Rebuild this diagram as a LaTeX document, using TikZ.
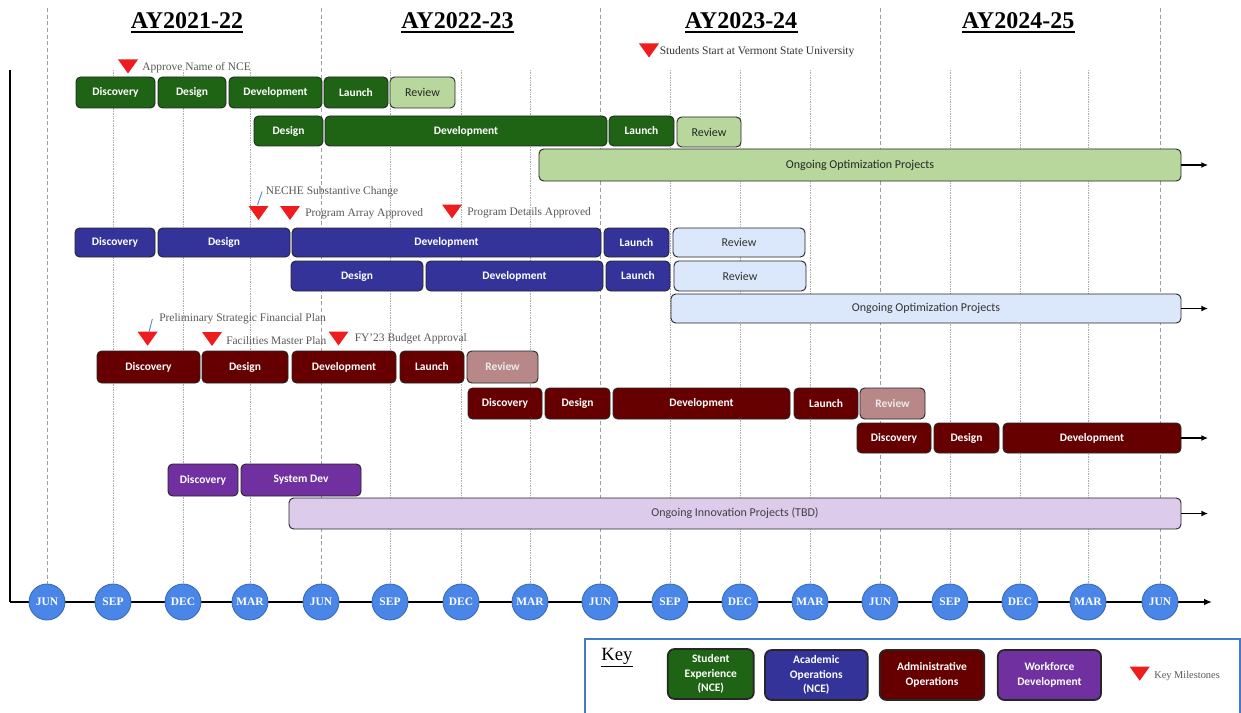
\documentclass[tikz,border=0pt]{standalone}
\usepackage{fontspec}
\setmainfont{Liberation Serif}
\newfontfamily\barfont{Carlito}
\usetikzlibrary{arrows.meta}
\definecolor{sgreen}{RGB}{30,100,20}
\definecolor{lgreen}{RGB}{184,215,156}
\definecolor{ablue}{RGB}{51,51,153}
\definecolor{lblue}{RGB}{219,231,250}
\definecolor{amaroon}{RGB}{102,0,0}
\definecolor{lmaroon}{RGB}{184,136,136}
\definecolor{wpurple}{RGB}{112,48,160}
\definecolor{lpurple}{RGB}{220,203,235}
\definecolor{mblue}{RGB}{74,134,232}
\definecolor{msred}{RGB}{238,28,28}
\definecolor{calblue}{RGB}{80,140,230}
\definecolor{keyblue}{RGB}{70,120,200}
\tikzset{
 bar/.style={rounded corners=3.5pt, draw=black!85, line width=0.7pt, inner sep=0pt, font=\barfont\bfseries\fontsize{8.6}{10}\selectfont},
 lbar/.style={bar, font=\barfont\fontsize{9}{10}\selectfont},
 stuD/.style={bar, fill=sgreen, text=white},
 stuL/.style={lbar, fill=lgreen, text=black!85},
 acaD/.style={bar, fill=ablue, text=white},
 acaL/.style={lbar, fill=lblue, text=black!80},
 admD/.style={bar, fill=amaroon, text=white},
 admL/.style={bar, fill=lmaroon, text=white!92!black},
 wfdD/.style={bar, fill=wpurple, text=white},
 wfdL/.style={lbar, fill=lpurple, text=black!75},
 month/.style={circle, fill=mblue, draw=mblue!75!black, line width=0.6pt, minimum size=27pt, inner sep=0pt, text=white, font=\bfseries\fontsize{8.6}{10}\selectfont},
 mslabel/.style={anchor=west, inner sep=0pt, text=black!65, font=\fontsize{8.6}{10}\selectfont},
 hdr/.style={font=\bfseries\fontsize{18}{22}\selectfont, inner sep=0pt, anchor=base},
 hdrule/.style={line width=1.4pt},
 junline/.style={gray!75, line width=0.5pt, dash pattern=on 3pt off 2pt},
 qline/.style={gray!65, line width=0.4pt, dash pattern=on 1pt off 0.8pt},
 tail/.style={line width=1.1pt, -{Latex[length=5pt,width=4.5pt]}},
 axisline/.style={line width=1.3pt},
 callout/.style={line width=0.7pt, draw=calblue},
 keyitem/.style={rounded corners=5pt, line width=1.3pt, draw=black!85, text=white, align=center, inner sep=0pt, font=\barfont\bfseries\fontsize{8.6}{11}\selectfont, minimum height=37.5pt},
}
\newcommand\gantt[7]{%
  \node[#6, minimum width={(#3-#2)*0.75pt}, minimum height={(#5-#4)*0.75pt}] (#1) at ({(#2+#3)/2},{(#4+#5)/2}) {#7};}
\newcommand\milestone[3]{%
  \coordinate (#1) at (#2,#3);
  \fill[msred] (#1) ++(-10,-7) -- ++(20,0) -- ++(-10,14) -- cycle;}
\begin{document}
\begin{tikzpicture}[x=0.75pt,y=-0.75pt]
\useasboundingbox (0,0) rectangle (1241,713);
\fill[white] (0,0) rectangle (1241,713);

% axis
\coordinate (axtop) at (10,70);
\coordinate (axcorner) at (10,602);
\coordinate (axend) at (1212,602);
\draw[axisline] (axtop) -- (axcorner);
\draw[axisline, -{Latex[length=6pt,width=5pt]}] (axcorner) -- (axend);

% month circles
\foreach \xx/\mm [count=\i from 0] in {47/JUN,113/SEP,183/DEC,250/MAR,321/JUN,390/SEP,461/DEC,530/MAR,600/JUN,670/SEP,740/DEC,810/MAR,880/JUN,950/SEP,1020/DEC,1088/MAR,1160/JUN}{
  \node[month] (m\i) at (\xx,602) {\mm};
}
% grid lines
\foreach \i/\xx in {0/47,4/321,8/600,12/880,16/1160}{
  \coordinate (gt\i) at (\xx,8);
  \draw[junline] (gt\i) -- (m\i.north);
}
\foreach \i/\xx in {1/113,2/183,3/250,5/390,6/461,7/530,9/670,10/740,11/810,13/950,14/1020,15/1088}{
  \coordinate (gt\i) at (\xx,70);
  \draw[qline] (gt\i) -- (m\i.north);
}

% headers
\node[hdr] (h1) at (187,29) {AY2021-22};
\node[hdr] (h2) at (457.5,29) {AY2022-23};
\node[hdr] (h3) at (741,29) {AY2023-24};
\node[hdr] (h4) at (1018,29) {AY2024-25};
\foreach \h in {h1,h2,h3,h4}{
  \draw[hdrule] ([yshift=-2.2pt]\h.base west) -- ([yshift=-2.2pt]\h.base east);
}

% Student experience
\gantt{s1a}{76}{155}{77}{108}{stuD}{Discovery}
\gantt{s1b}{158}{226}{77}{108}{stuD}{Design}
\gantt{s1c}{229}{322}{77}{108}{stuD}{Development}
\gantt{s1d}{324}{388}{77}{108}{stuD}{Launch}
\gantt{s1e}{390}{455}{77}{108}{stuL}{Review}
\gantt{s2a}{254}{323}{116}{146}{stuD}{Design}
\gantt{s2b}{325}{607}{116}{146}{stuD}{Development}
\gantt{s2c}{609}{674}{116}{146}{stuD}{Launch}
\gantt{s2d}{677}{741}{117}{147}{stuL}{Review}
\gantt{s3}{539}{1181}{149}{181}{stuL}{Ongoing Optimization Projects}
\coordinate (s3end) at (1208,165);
\draw[tail] (s3.east) -- (s3end);

% Academic operations
\gantt{a1a}{75}{155}{228}{257}{acaD}{Discovery}
\gantt{a1b}{158}{290}{228}{257}{acaD}{Design}
\gantt{a1c}{292}{601}{228}{257}{acaD}{Development}
\gantt{a1d}{604}{669}{228}{257}{acaD}{Launch}
\gantt{a1e}{673}{805}{228}{257}{acaL}{Review}
\gantt{a2a}{291}{423}{261}{291}{acaD}{Design}
\gantt{a2b}{426}{603}{261}{291}{acaD}{Development}
\gantt{a2c}{606}{670}{261}{291}{acaD}{Launch}
\gantt{a2d}{674}{806}{261}{291}{acaL}{Review}
\gantt{a3}{671}{1181}{294}{323}{acaL}{Ongoing Optimization Projects}
\coordinate (a3end) at (1208,308.5);
\draw[tail] (a3.east) -- (a3end);

% Administrative operations
\gantt{d1a}{97}{200}{351}{383}{admD}{Discovery}
\gantt{d1b}{202}{288}{351}{383}{admD}{Design}
\gantt{d1c}{292}{396}{351}{383}{admD}{Development}
\gantt{d1d}{400}{464}{351}{383}{admD}{Launch}
\gantt{d1e}{467}{538}{351}{383}{admL}{Review}
\gantt{d2a}{468}{542}{388}{419}{admD}{Discovery}
\gantt{d2b}{545}{610}{388}{419}{admD}{Design}
\gantt{d2c}{613}{790}{388}{419}{admD}{Development}
\gantt{d2d}{794}{858}{388}{419}{admD}{Launch}
\gantt{d2e}{860}{925}{388}{419}{admL}{Review}
\gantt{d3a}{857}{931}{423}{453}{admD}{Discovery}
\gantt{d3b}{934}{999}{423}{453}{admD}{Design}
\gantt{d3c}{1003}{1181}{423}{453}{admD}{Development}
\coordinate (d3end) at (1208,438);
\draw[tail] (d3c.east) -- (d3end);

% Workforce development
\gantt{w1a}{168}{238}{464}{496}{wfdD}{Discovery}
\gantt{w1b}{241}{361}{464}{496}{wfdD}{System Dev}
\gantt{w2}{289}{1181}{498}{529}{wfdL}{Ongoing Innovation Projects (TBD)}
\coordinate (w2end) at (1208,513.5);
\draw[tail] (w2.east) -- (w2end);

% milestones
\milestone{t1}{128}{66.5}
\node[mslabel] (l1) at (142,67.5) {Approve Name of NCE};
\milestone{t2}{649}{50.5}
\node[mslabel, text=black!80] (l2) at (659.5,52) {Students Start at Vermont State University};
\milestone{t3}{258.5}{213}
\node[mslabel] (l3) at (265.5,191.5) {NECHE Substantive Change};
\coordinate (t3top) at (257.5,205);
\draw[callout] (t3top) -- ([xshift=-2.5pt]l3.west);
\milestone{t4}{290}{213}
\node[mslabel] (l4) at (305,213.5) {Program Array Approved};
\milestone{t5}{452}{211.5}
\node[mslabel] (l5) at (467,212.5) {Program Details Approved};
\milestone{t6}{147.6}{338.7}
\node[mslabel] (l6) at (159,319) {Preliminary Strategic Financial Plan};
\coordinate (t6top) at (149,332);
\draw[callout] (t6top) -- ([xshift=-5pt]l6.west);
\milestone{t7}{212}{339}
\node[mslabel] (l7) at (226,341) {Facilities Master Plan};
\milestone{t8}{338.5}{338.5}
\node[mslabel] (l8) at (354.5,338.3) {FY'23 Budget Approval};

% key
\coordinate (kbl) at (585,713);
\coordinate (ktl) at (585,639);
\coordinate (ktr) at (1240,639);
\coordinate (kbr) at (1240,713);
\draw[keyblue, line width=1.3pt] (kbl) -- (ktl) -- (ktr) -- (kbr);
\node[font=\fontsize{14}{16}\selectfont, inner sep=0pt] (keyttl) at (617,658) {\underline{Key}};
\node[keyitem, fill=sgreen, minimum width=64.5pt] (k1) at (710.8,674) {Student\\Experience\\(NCE)};
\node[keyitem, fill=ablue, minimum width=77pt] (k2) at (816.3,675) {Academic\\Operations\\(NCE)};
\node[keyitem, fill=amaroon, minimum width=78.5pt] (k3) at (932,675) {Administrative\\Operations};
\node[keyitem, fill=wpurple, minimum width=77.5pt] (k4) at (1049.4,675) {Workforce\\Development};
\milestone{t9}{1139.7}{673.7}
\node[mslabel, font=\fontsize{7.8}{9}\selectfont] (l9) at (1154,676) {Key Milestones};
\end{tikzpicture}
\end{document}
